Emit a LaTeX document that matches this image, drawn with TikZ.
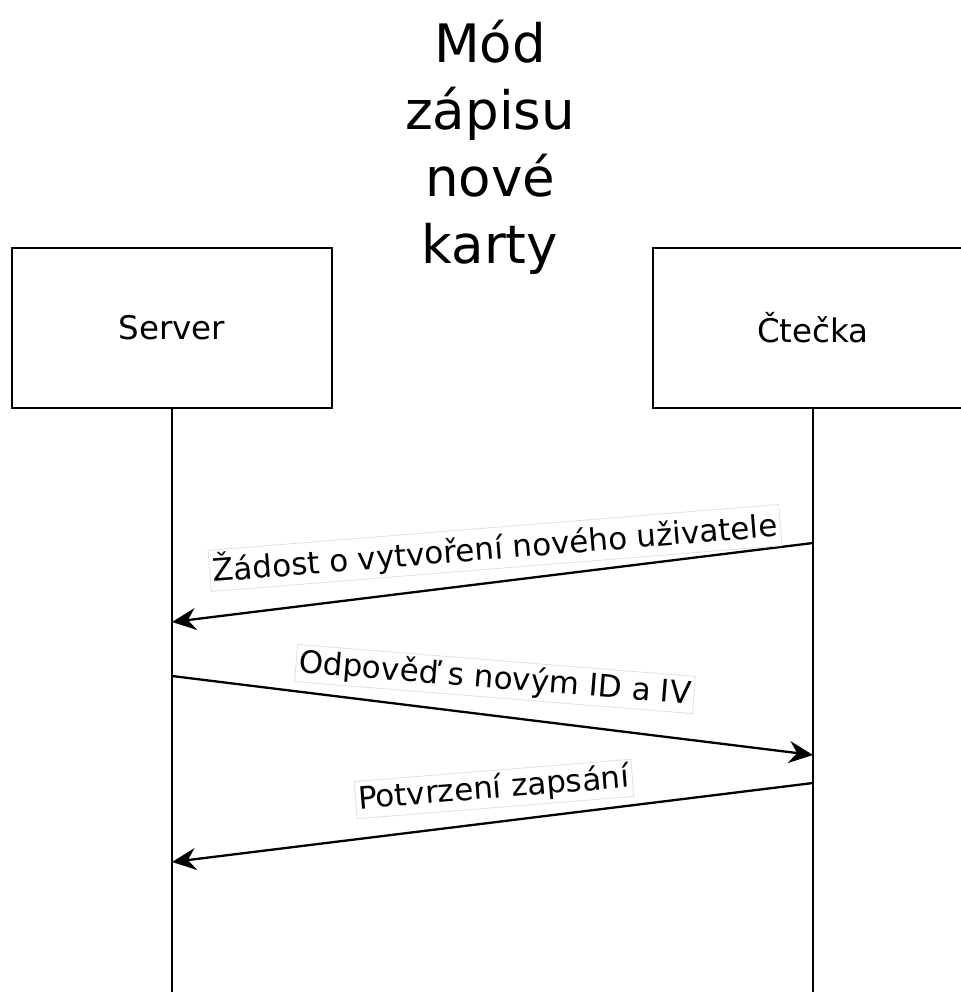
\documentclass[tikz,border=0pt]{standalone}
\usepackage{fontspec}
\setmainfont{DejaVu Sans}
\usetikzlibrary{arrows.meta}
\begin{document}
\begin{tikzpicture}[x=1pt,y=-1pt,
  actor/.style={draw, line width=2.3pt, minimum width=320pt, minimum height=160pt,
    inner sep=0pt, font=\fontsize{32.5}{38}\selectfont},
  lifeline/.style={line width=2.3pt},
  msg/.style={line width=2.3pt, -{Stealth[length=24pt,width=22pt,inset=8pt]}},
  msglabel/.style={fill=white, draw=black!12, line width=0.8pt, inner sep=3pt,
    font=\fontsize{31}{36}\selectfont},
  heading/.style={align=center, inner sep=0pt, font=\fontsize{53}{67}\selectfont}]
\useasboundingbox (0,0) rectangle (960,992);

% title
\node[heading, anchor=north] (title) at (490,20) {Mód\\zápisu\\nové\\karty};

% participants
\node[actor] (server) at (172,328) {Server};
\node[actor] (reader) at (813,328) {Čtečka};

% lifelines
\coordinate (serverEnd) at (172,992);
\coordinate (readerEnd) at (813,992);
\draw[lifeline] (server.south) -- (serverEnd);
\draw[lifeline] (reader.south) -- (readerEnd);

% message end points on the lifelines
\coordinate (r1) at (813,543);
\coordinate (s1) at (172,622);
\coordinate (s2) at (172,676);
\coordinate (r2) at (813,755);
\coordinate (r3) at (813,783);
\coordinate (s3) at (172,862);

% messages
\draw[msg] (r1) -- (s1);
\draw[msg] (s2) -- (r2);
\draw[msg] (r3) -- (s3);

% message labels
\node[msglabel, rotate=4.6] (l1) at (495,548) {Žádost o vytvoření nového uživatele};
\node[msglabel, rotate=-4.6] (l2) at (495,679) {Odpověď s novým ID a IV};
\node[msglabel, rotate=4.6] (l3) at (494,789) {Potvrzení zapsání};
\end{tikzpicture}
\end{document}
